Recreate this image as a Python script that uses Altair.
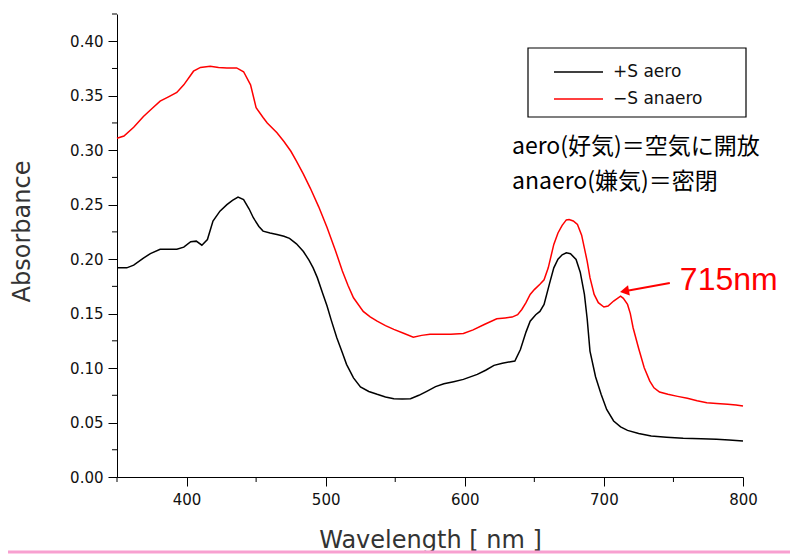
import altair as alt
import pandas as pd

# ---- data ----
series_names = ["+S aero", "\u2212S anaero"]

wl_aero = [350, 357, 362, 369, 374, 381, 386, 393, 398, 403, 407, 411, 415, 419, 424,
           429, 433, 437, 441, 445, 448, 452, 455, 460, 465, 470, 474, 479, 484, 488,
           491, 494, 498, 501, 504, 508, 512, 515, 520, 525, 531, 537, 543, 549, 555,
           561, 567, 573, 579, 585, 592, 599, 609, 615, 621, 627, 633, 636, 640, 644,
           647, 651, 654, 657, 661, 664, 667, 670, 673, 676, 680, 683, 686, 688, 690,
           694, 698, 702, 707, 712, 717, 725, 734, 745, 757, 770, 781, 790, 800]
abs_aero = [0.192, 0.192, 0.1945, 0.201, 0.205, 0.209, 0.209, 0.209, 0.211, 0.216, 0.2165,
            0.2128, 0.218, 0.235, 0.244, 0.250, 0.254, 0.257, 0.2547, 0.246, 0.238, 0.230,
            0.2257, 0.224, 0.2226, 0.221, 0.219, 0.214, 0.207, 0.199, 0.192, 0.183, 0.168,
            0.157, 0.144, 0.1278, 0.114, 0.1034, 0.091, 0.0826, 0.0785, 0.0759, 0.0735,
            0.0719, 0.0715, 0.0719, 0.075, 0.0789, 0.083, 0.0856, 0.0875, 0.0896, 0.0942,
            0.098, 0.1025, 0.1045, 0.1058, 0.1064, 0.117, 0.133, 0.143, 0.149, 0.152,
            0.1584, 0.178, 0.192, 0.200, 0.204, 0.2058, 0.205, 0.1997, 0.188, 0.1676,
            0.145, 0.1156, 0.092, 0.0759, 0.062, 0.0514, 0.046, 0.0428, 0.040, 0.0376,
            0.0365, 0.0355, 0.035, 0.0346, 0.034, 0.033]

wl_anaero = [350, 355, 362, 369, 375, 381, 387, 393, 398, 405, 410, 417, 423, 429, 436,
             441, 446, 450, 455, 458, 465, 470, 475, 479, 484, 489, 495, 501, 507, 512,
             516, 520, 527, 532, 537, 543, 549, 556, 563, 569, 575, 582, 590, 599, 606,
             614, 623, 629, 634, 638, 641, 644, 647, 650, 654, 657, 660, 664, 667, 670,
             673, 675, 678, 681, 684, 688, 690, 693, 696, 700, 703, 707, 712, 714, 717,
             719, 721, 725, 729, 733, 736, 740, 746, 753, 760, 767, 774, 781, 789, 795, 800]
abs_anaero = [0.311, 0.313, 0.321, 0.331, 0.338, 0.345, 0.349, 0.353, 0.360, 0.3725, 0.376,
              0.377, 0.376, 0.3755, 0.3755, 0.372, 0.360, 0.339, 0.330, 0.325, 0.316, 0.308,
              0.299, 0.290, 0.278, 0.265, 0.248, 0.229, 0.208, 0.189, 0.176, 0.1645, 0.152,
              0.147, 0.143, 0.139, 0.1355, 0.132, 0.1284, 0.130, 0.131, 0.131, 0.131, 0.1318,
              0.135, 0.140, 0.1452, 0.146, 0.1468, 0.149, 0.1538, 0.160, 0.1676, 0.172,
              0.177, 0.181, 0.192, 0.2135, 0.224, 0.231, 0.236, 0.2364, 0.235, 0.2318,
              0.222, 0.198, 0.183, 0.1676, 0.160, 0.156, 0.157, 0.1615, 0.166, 0.164,
              0.1584, 0.150, 0.137, 0.118, 0.1003, 0.088, 0.0819, 0.078, 0.0759, 0.074,
              0.0722, 0.070, 0.0682, 0.0675, 0.0667, 0.066, 0.0651]

x_major = [400, 500, 600, 700, 800]
x_minor = [350, 450, 550, 650, 750]
y_major = [0.00, 0.05, 0.10, 0.15, 0.20, 0.25, 0.30, 0.35, 0.40]
y_minor = [0.025, 0.075, 0.125, 0.175, 0.225, 0.275, 0.325, 0.375, 0.425]

note_lines = ["aero(好気)＝空気に開放", "anaero(嫌気)＝密閉"]
peak_label = ["715nm"]
peak_wl = [754.6]
peak_abs = [0.1716]
arrow_tail = [747.4, 0.178]
arrow_tip = [714.8, 0.1706]

# ---- tables ----
df = pd.concat([
    pd.DataFrame({"wl": wl_aero, "abs": abs_aero, "series": series_names[0]}),
    pd.DataFrame({"wl": wl_anaero, "abs": abs_anaero, "series": series_names[1]}),
])

FONT = "DejaVu Sans"
xscale = alt.Scale(domain=[350, 800], nice=False, zero=False)
yscale = alt.Scale(domain=[0, 0.425], nice=False, zero=True)
cscale = alt.Scale(domain=series_names, range=["#000000", "#ff0000"])

x_axis = alt.Axis(
    values=x_major, format="d", title="Wavelength [ nm ]", grid=False,
    domainColor="black", tickColor="black", tickSize=9, labelFont=FONT,
    labelFontSize=15, labelColor="#111", labelPadding=6, labelFlush=False,
    labelOverlap=False, titleFont=FONT, titleFontSize=24, titleFontWeight="normal",
    titleColor="#333", titleX=313, titleY=70, titleBaseline="alphabetic",
    titleAlign="center")
y_axis = alt.Axis(
    values=y_major, format=".2f", title="Absorbance", grid=False,
    domainColor="black", tickColor="black", tickSize=9, labelFont=FONT,
    labelFontSize=15, labelColor="#111", labelPadding=5, labelFlush=False,
    labelOverlap=False, titleFont=FONT, titleFontSize=24, titleFontWeight="normal",
    titleColor="#333", titleAngle=270, titleX=-95, titleY=217,
    titleAlign="center", titleBaseline="middle")

lines = alt.Chart(df).mark_line(strokeWidth=1.5).encode(
    x=alt.X("wl:Q", scale=xscale, axis=x_axis),
    y=alt.Y("abs:Q", scale=yscale, axis=y_axis),
    color=alt.Color("series:N", scale=cscale, legend=None),
)

minor_x = alt.Chart(pd.DataFrame({"wl": x_minor})).mark_rule(color="black", strokeWidth=1).encode(
    x=alt.X("wl:Q", scale=xscale, axis=x_axis), y=alt.value(463), y2=alt.value(468))
minor_y = alt.Chart(pd.DataFrame({"abs": y_minor})).mark_rule(color="black", strokeWidth=1).encode(
    y=alt.Y("abs:Q", scale=yscale, axis=y_axis), x=alt.value(-5), x2=alt.value(0))

one = pd.DataFrame({"k": [0]})
legend_box = alt.Chart(one).mark_rect(fill="white", stroke="black", strokeWidth=1.2).encode(
    x=alt.value(411), x2=alt.value(629), y=alt.value(34), y2=alt.value(103))
leg_line1 = alt.Chart(one).mark_rule(color="black", strokeWidth=1.6).encode(
    x=alt.value(437), x2=alt.value(486), y=alt.value(58))
leg_line2 = alt.Chart(one).mark_rule(color="#ff0000", strokeWidth=1.6).encode(
    x=alt.value(437), x2=alt.value(486), y=alt.value(85))
leg_text1 = alt.Chart(pd.DataFrame({"t": [series_names[0]]})).mark_text(
    align="left", baseline="middle", font=FONT, fontSize=17, color="#111").encode(
    x=alt.value(496), y=alt.value(58), text="t:N")
leg_text2 = alt.Chart(pd.DataFrame({"t": [series_names[1]]})).mark_text(
    align="left", baseline="middle", font=FONT, fontSize=17, color="#111").encode(
    x=alt.value(496), y=alt.value(85), text="t:N")

note1 = alt.Chart(pd.DataFrame({"t": [note_lines[0]]})).mark_text(
    align="left", baseline="middle", font="Noto Sans CJK JP", fontSize=23, color="#000").encode(
    x=alt.value(395), y=alt.value(133), text="t:N")
note2 = alt.Chart(pd.DataFrame({"t": [note_lines[1]]})).mark_text(
    align="left", baseline="middle", font="Noto Sans CJK JP", fontSize=23, color="#000").encode(
    x=alt.value(395), y=alt.value(168), text="t:N")

peak_text = alt.Chart(pd.DataFrame({"wl": peak_wl, "abs": peak_abs, "t": peak_label})).mark_text(
    align="left", baseline="alphabetic", font="Liberation Sans", fontSize=32, color="#ff0000").encode(
    x=alt.X("wl:Q", scale=xscale, axis=x_axis), y=alt.Y("abs:Q", scale=yscale, axis=y_axis),
    text="t:N")
arrow_line = alt.Chart(pd.DataFrame({"wl": [arrow_tail[0]], "abs": [arrow_tail[1]],
                                     "wl2": [arrow_tip[0]], "abs2": [arrow_tip[1]]})).mark_rule(
    color="#ff0000", strokeWidth=2).encode(
    x=alt.X("wl:Q", scale=xscale, axis=x_axis), y=alt.Y("abs:Q", scale=yscale, axis=y_axis),
    x2="wl2:Q", y2="abs2:Q")
arrow_head = alt.Chart(pd.DataFrame({"wl": [arrow_tip[0]], "abs": [arrow_tip[1]]})).mark_point(
    shape="triangle-left", filled=True, color="#ff0000", size=110, angle=350, opacity=1).encode(
    x=alt.X("wl:Q", scale=xscale, axis=x_axis), y=alt.Y("abs:Q", scale=yscale, axis=y_axis))

pink = alt.Chart(one).mark_rule(color="#f8a0d0", strokeWidth=3).encode(
    x=alt.value(-109), x2=alt.value(673), y=alt.value(538))

chart = alt.layer(
    lines, minor_x, minor_y, legend_box, leg_line1, leg_line2, leg_text1, leg_text2,
    note1, note2, arrow_line, arrow_head, peak_text, pink
).properties(
    width=626, height=463,
    padding={"left": 109, "top": 6, "right": 47, "bottom": 78},
    autosize=alt.AutoSizeParams(type="none"),
    background="white",
).configure_view(stroke=None)

chart.save("out.html", embed_options={"renderer": "svg", "actions": False})
